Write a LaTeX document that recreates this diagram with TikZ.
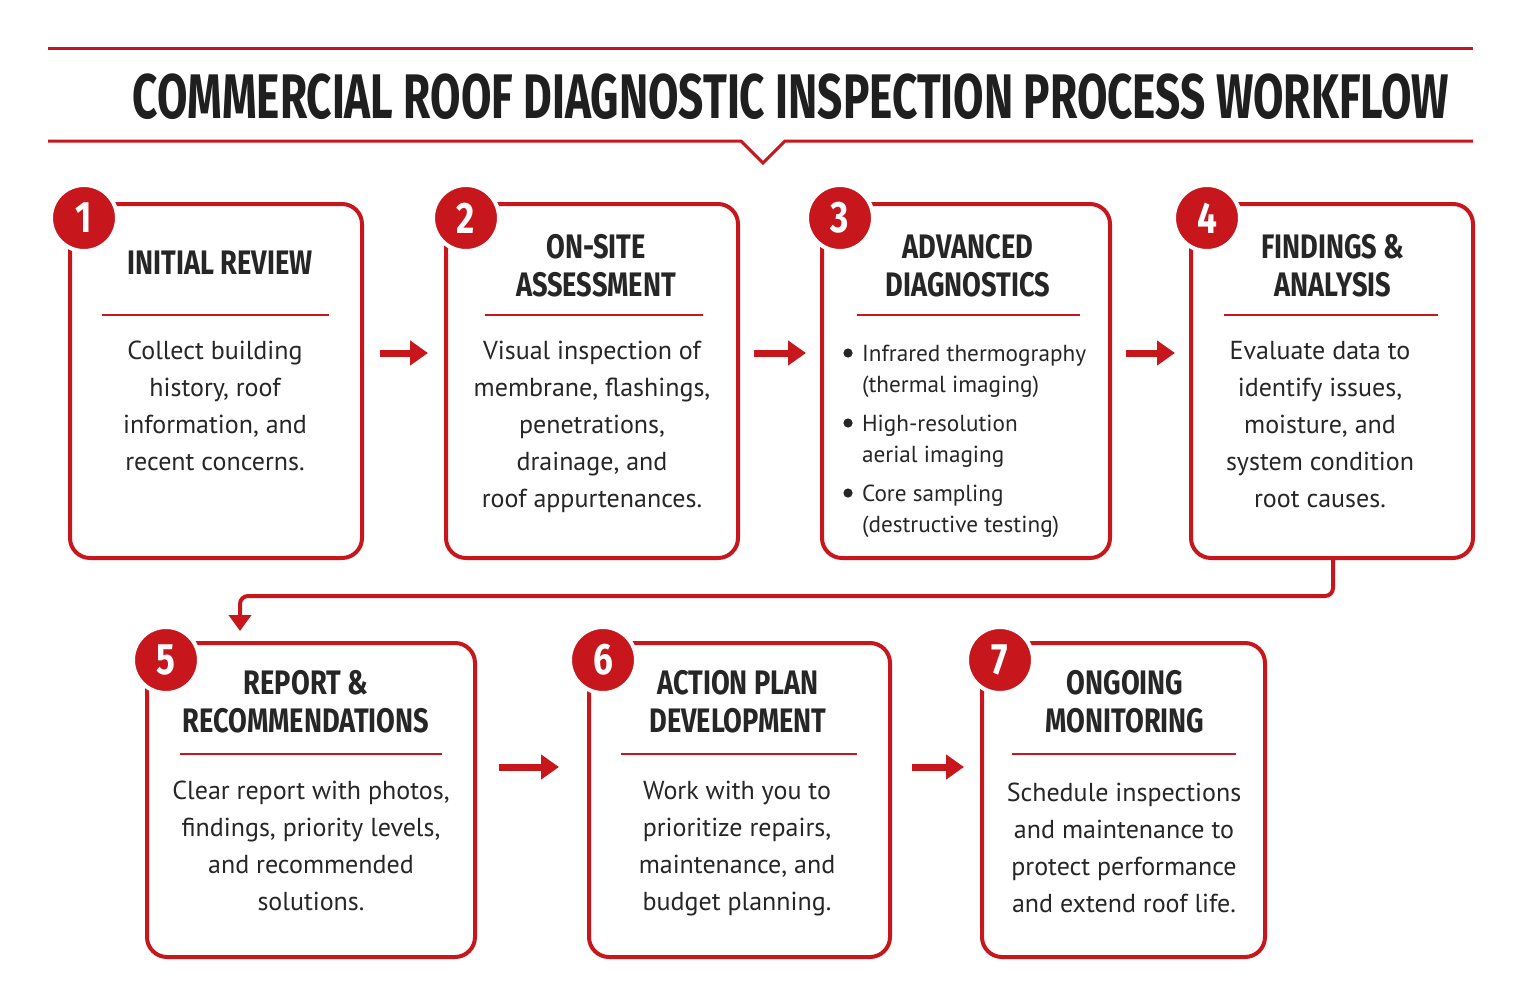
\documentclass[tikz,border=0pt]{standalone}
\usepackage{fontspec}
\setmainfont{PT Sans}
\newfontfamily\condbf[FakeStretch=0.8]{Fira Sans Bold}
\newfontfamily\headbf[FakeStretch=0.7]{Fira Sans Bold}
\usetikzlibrary{arrows.meta,positioning}
\definecolor{roofred}{HTML}{C8161D}
\tikzset{
  box/.style={draw=roofred,line width=2pt,rounded corners=10pt,fill=white},
  num/.style={circle,fill=roofred,draw=white,line width=2pt,minimum size=33pt,inner sep=0pt,
    font=\condbf\fontsize{22}{22}\selectfont,text=white},
  ttl/.style={align=center,font=\condbf\fontsize{17}{19}\selectfont,text=black!85},
  body/.style={align=center,font=\fontsize{13}{18.5}\selectfont,text=black!85},
  bul/.style={align=left,anchor=north west,font=\fontsize{11.6}{15.5}\selectfont,text=black!85},
  flow/.style={roofred,line width=3.5pt,-{Triangle[length=9pt,width=12pt]}},
  rule/.style={roofred,line width=1.3pt}
}
\begin{document}
\begin{tikzpicture}[x=0.5pt,y=-0.5pt]
\useasboundingbox[fill=white] (0,0) rectangle (1522,1007);

% header
\draw[roofred,line width=1.5pt] (48,48) -- (1473,48);
\draw[roofred,line width=1.5pt] (48,141) -- (741,141) -- (763,163) -- (785,141) -- (1473,141);
\node[font=\headbf\fontsize{31.5}{31.5}\selectfont,text=black!88] (title) at (791,97) {COMMERCIAL ROOF DIAGNOSTIC INSPECTION PROCESS WORKFLOW};

% row 1 boxes
\node[box,minimum width=146pt,minimum height=177pt] (b1) at (216,381) {};
\node[box,minimum width=146pt,minimum height=177pt] (b2) at (592,381) {};
\node[box,minimum width=144pt,minimum height=177pt] (b3) at (966,381) {};
\node[box,minimum width=141pt,minimum height=177pt] (b4) at (1332,381) {};
% row 2 boxes
\node[box,minimum width=164pt,minimum height=157pt] (b5) at (311,800) {};
\node[box,minimum width=150.5pt,minimum height=157pt] (b6) at (739.5,800) {};
\node[box,minimum width=141.5pt,minimum height=157pt] (b7) at (1123.5,800) {};

% numbers
\node[num] (n1) at (84,218) {1};
\node[num] (n2) at (466,218) {2};
\node[num] (n3) at (840,218) {3};
\node[num] (n4) at (1207,218) {4};
\node[num] (n5) at (166,660) {5};
\node[num] (n6) at (603,660) {6};
\node[num] (n7) at (1000,660) {7};

% titles
\node[ttl] (t1) at (220,263) {INITIAL REVIEW};
\node[ttl] (t2) at (596,266) {ON-SITE\\ASSESSMENT};
\node[ttl] (t3) at (968,266) {ADVANCED\\DIAGNOSTICS};
\node[ttl] (t4) at (1333,266) {FINDINGS \&\\ANALYSIS};
\node[ttl] (t5) at (306,702) {REPORT \&\\RECOMMENDATIONS};
\node[ttl] (t6) at (738,702) {ACTION PLAN\\DEVELOPMENT};
\node[ttl] (t7) at (1125,702) {ONGOING\\MONITORING};

% dividers
\draw[rule] (102,315) -- (329,315);
\draw[rule] (485,315) -- (703,315);
\draw[rule] (857,315) -- (1080,315);
\draw[rule] (1224,315) -- (1438,315);
\draw[rule] (180,754) -- (442,754);
\draw[rule] (621,754) -- (857,754);
\draw[rule] (1012,754) -- (1236,754);

% body texts
\node[body,anchor=north] (x1) at (215,334) {Collect building\\history, roof\\information, and\\recent concerns.};
\node[body,anchor=north] (x2) at (592,334) {Visual inspection of\\membrane, flashings,\\penetrations,\\drainage, and\\roof appurtenances.};
\node[body,anchor=north] (x4) at (1320,334) {Evaluate data to\\identify issues,\\moisture, and\\system condition\\root causes.};
\node[body,anchor=north] (x5) at (311,774) {Clear report with photos,\\findings, priority levels,\\and recommended\\solutions.};
\node[body,anchor=north] (x6) at (737,774) {Work with you to\\prioritize repairs,\\maintenance, and\\budget planning.};
\node[body,anchor=north] (x7) at (1124,776) {Schedule inspections\\and maintenance to\\protect performance\\and extend roof life.};

% bullets
\foreach \yy/\txt in {338/{Infrared thermography\\(thermal imaging)},408/{High-resolution\\aerial imaging},478/{Core sampling\\(destructive testing)}}{
  \fill[black!85] (848,\yy+15) circle (2.3pt);
  \node[bul] at (855,\yy) {\txt};
}

% flow arrows
\draw[flow,shorten <=8pt,shorten >=8pt] ([yshift=14pt]b1.east) -- ([yshift=14pt]b2.west);
\draw[flow,shorten <=7pt,shorten >=7pt] ([yshift=14pt]b2.east) -- ([yshift=14pt]b3.west);
\draw[flow,shorten <=7pt,shorten >=7pt] ([yshift=14pt]b3.east) -- ([yshift=14pt]b4.west);
\draw[flow,shorten <=11pt,shorten >=14pt] ([yshift=16.5pt]b5.east) -- ([yshift=16.5pt]b6.west);
\draw[flow,shorten <=10pt,shorten >=8pt] ([yshift=16.5pt]b6.east) -- ([yshift=16.5pt]b7.west);

% row connector
\coordinate (c1) at (1333,596);
\coordinate (c2) at (240,596);
\draw[roofred,line width=2pt,-{Triangle[length=8pt,width=11pt]},rounded corners=4pt]
  (b4.south -| c1) -- (c1) -- (c2) -- ([yshift=5pt]b5.north -| c2);
\end{tikzpicture}
\end{document}
